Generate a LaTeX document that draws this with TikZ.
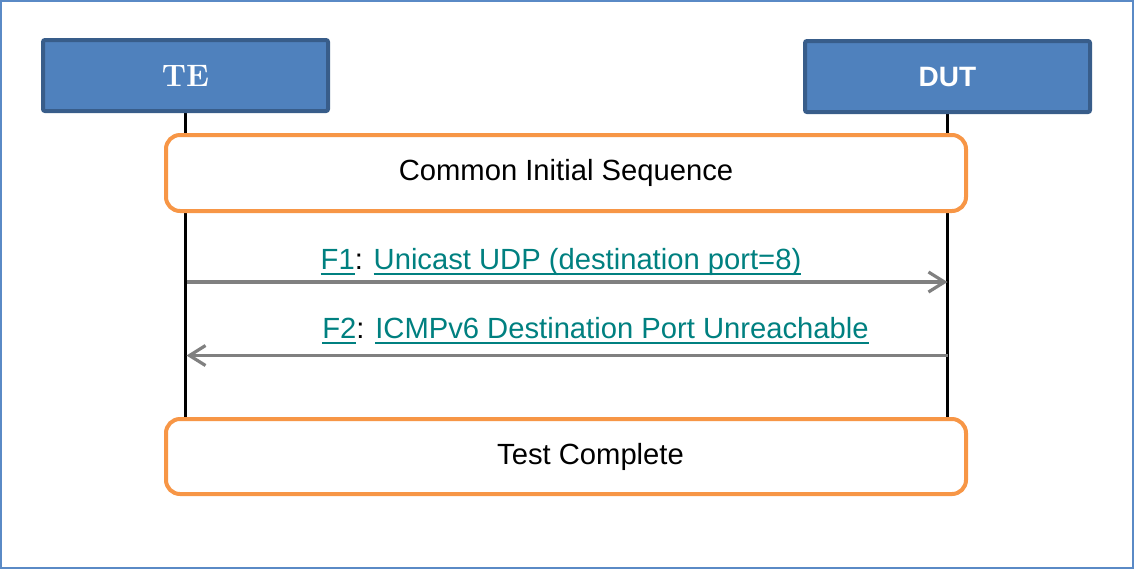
\documentclass[tikz,border=0pt]{standalone}
\usepackage{fontspec}
\setsansfont{Liberation Sans}
\usetikzlibrary{arrows.meta,backgrounds}

\definecolor{boxblue}{HTML}{4F81BD}
\definecolor{boxedge}{HTML}{385D8A}
\definecolor{seqorange}{HTML}{F79646}
\definecolor{msggray}{HTML}{808080}
\definecolor{linkteal}{HTML}{008080}
\definecolor{frameblue}{HTML}{5A8AC6}

\newcommand{\flowlink}[1]{\leavevmode\setbox0\hbox{#1}\rlap{\rule[-2.5pt]{\wd0}{1pt}}\box0}

\begin{document}
\begin{tikzpicture}[x=0.5pt, y=-0.5pt,
  entity/.style={draw=boxedge, fill=boxblue, line width=2pt, rounded corners=1pt,
    minimum width=142.5pt, minimum height=35.5pt, text=white},
  phase/.style={draw=seqorange, fill=white, line width=2pt, rounded corners=7pt,
    minimum width=400pt, minimum height=38pt, font=\sffamily\fontsize{14.6}{17}\selectfont},
  lifeline/.style={black, line width=1.6pt},
  msg/.style={msggray, line width=1.6pt, -{Straight Barb[length=8pt, width=10pt]}},
  msglabel/.style={anchor=base, text=linkteal, font=\sffamily\fontsize{14.6}{17}\selectfont}]
  \useasboundingbox (0,0) rectangle (1134,569);

  % entities
  \node[entity, font=\rmfamily\bfseries\fontsize{15.5}{18}\selectfont] (te) at (185.5,75.5) {TE};
  \node[entity, font=\sffamily\bfseries\fontsize{14}{16}\selectfont] (dut) at (947.5,76.5) {DUT};

  % phases
  \node[phase] (init) at (566,173) {Common Initial Sequence};
  \node[phase, minimum height=37.5pt] (done) at (566,456.5) {\hspace*{24.5pt}Test Complete};

  % lifelines and frame
  \begin{scope}[on background layer]
    \draw[frameblue, line width=0.75pt] (1,1) rectangle (1133,568);
    \draw[lifeline] (te.south) -- (te.south |- done.north);
    \draw[lifeline] (dut.south) -- (dut.south |- done.north);
  \end{scope}

  % messages
  \coordinate (teF1) at (186.5,282);
  \coordinate (dutF1) at (947.5,282);
  \coordinate (teF2) at (186.5,355.5);
  \coordinate (dutF2) at (947.5,355.5);
  \draw[msg] (teF1) -- (dutF1);
  \draw[msg] (dutF2) -- (teF2);

  \node[msglabel] (f1label) at (561,269.5)
    {\flowlink{F1}\textcolor{black}{:} \flowlink{Unicast UDP (destination port=8)}};
  \node[msglabel] (f2label) at (595.5,338.5)
    {\flowlink{F2}\textcolor{black}{:} \flowlink{ICMPv6 Destination Port Unreachable}};
\end{tikzpicture}
\end{document}
